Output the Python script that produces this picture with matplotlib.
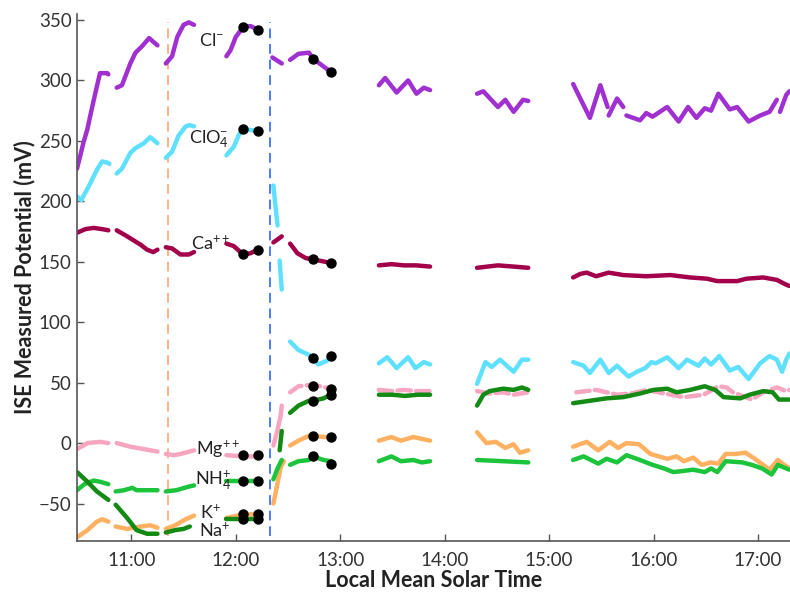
import matplotlib
matplotlib.use("Agg")
import matplotlib.pyplot as plt

plt.rcParams['font.family'] = ['Lato', 'DejaVu Sans']
plt.rcParams['mathtext.fontset'] = 'custom'
plt.rcParams['mathtext.rm'] = 'Lato'
plt.rcParams['mathtext.it'] = 'Lato'

# ---- data: time in hours (local mean solar time), values in mV ----
cl_t = [[10.48, 10.54, 10.58, 10.62, 10.67, 10.70, 10.77, 10.78],
        [10.86, 10.91, 10.99, 11.04, 11.10, 11.17, 11.21, 11.25],
        [11.33, 11.39, 11.44, 11.50, 11.55, 11.60],
        [11.91, 11.95, 12.00, 12.07, 12.14, 12.21],
        [12.35, 12.44],
        [12.52, 12.60, 12.70, 12.74, 12.91],
        [13.37, 13.43, 13.54, 13.65, 13.73, 13.80, 13.86],
        [14.31, 14.37, 14.51, 14.58, 14.66, 14.75, 14.80],
        [15.23, 15.39, 15.49, 15.56],
        [15.57, 15.65, 15.71],
        [15.74, 15.87, 15.93, 15.99, 16.13, 16.24, 16.33, 16.41, 16.49, 16.55, 16.62,
         16.73, 16.80, 16.91, 17.02, 17.11, 17.18],
        [17.21, 17.27, 17.30]]
cl_v = [[227, 248, 260, 276, 295, 306, 306, 305],
        [294, 296, 314, 323, 328, 335, 332, 329],
        [314, 320, 336, 346, 348, 346],
        [320, 325, 336, 344, 345, 342],
        [319, 314],
        [317, 322, 323, 318, 307],
        [296, 302, 290, 300, 289, 294, 292],
        [289, 291, 278, 284, 274, 284, 283],
        [297, 269, 296, 278],
        [271, 285, 278],
        [271, 267, 273, 270, 278, 266, 278, 269, 277, 275, 289,
         276, 278, 266, 271, 274, 284],
        [274, 288, 291]]

clo4_t = [[10.48, 10.52, 10.59, 10.67, 10.72, 10.77, 10.79],
          [10.86, 10.91, 10.99, 11.04, 11.12, 11.18, 11.21, 11.25],
          [11.33, 11.39, 11.45, 11.52, 11.56, 11.60],
          [11.91, 11.98, 12.03, 12.07, 12.14, 12.21],
          [12.36, 12.38, 12.40],
          [12.42, 12.43, 12.44],
          [12.52, 12.60, 12.70, 12.74, 12.79, 12.87, 12.91],
          [13.37, 13.45, 13.54, 13.65, 13.72, 13.80, 13.86],
          [14.31, 14.39, 14.45, 14.53, 14.66, 14.74, 14.80],
          [15.23, 15.33, 15.39, 15.49, 15.57, 15.65, 15.76, 15.84, 15.92, 15.98, 16.02,
           16.13, 16.24, 16.32, 16.43, 16.49, 16.55, 16.63, 16.73, 16.81, 16.91, 17.02,
           17.11, 17.18, 17.23, 17.27, 17.30]]
clo4_v = [[204, 201, 212, 226, 233, 232, 231],
          [223, 227, 240, 244, 248, 253, 251, 248],
          [236, 241, 254, 262, 263, 262],
          [238, 245, 255, 260, 259, 258],
          [213, 196, 180],
          [151, 138, 127],
          [84, 77, 73, 70, 65, 68, 72],
          [66, 71, 62, 71, 62, 67, 65],
          [49, 67, 63, 69, 59, 69, 69],
          [67, 64, 58, 69, 58, 64, 55, 59, 62, 67, 66,
           71, 62, 69, 64, 70, 65, 72, 60, 63, 53, 66,
           72, 69, 59, 69, 74]]

ca_t = [[10.48, 10.56, 10.64, 10.72, 10.78],
        [10.86, 10.96, 11.09, 11.15, 11.21, 11.25],
        [11.33, 11.39, 11.47, 11.55, 11.60],
        [11.91, 11.98, 12.07, 12.14, 12.21],
        [12.36, 12.44],
        [12.52, 12.59, 12.67, 12.74, 12.91],
        [13.37, 13.49, 13.61, 13.73, 13.86],
        [14.31, 14.51, 14.66, 14.80],
        [15.23, 15.30, 15.36, 15.45, 15.57, 15.71, 15.93, 16.16, 16.35, 16.51, 16.61,
         16.80, 16.89, 17.05, 17.18, 17.27, 17.30]]
ca_v = [[174, 177, 178, 177, 176],
        [176, 171, 164, 160, 158, 160],
        [162, 161, 156, 156, 158],
        [165, 163, 156, 157, 160],
        [166, 171],
        [165, 157, 153, 152, 149],
        [147, 148, 147, 147, 146],
        [145, 147, 146, 145],
        [137, 140, 141, 138, 141, 139, 138, 139, 137, 136, 134,
         134, 136, 137, 135, 131, 130]]

mg_t = [[10.48, 10.58, 10.70, 10.78],
        [10.86, 10.99, 11.12, 11.25],
        [11.33, 11.41, 11.47, 11.60],
        [11.91, 12.07, 12.21],
        [12.36, 12.40, 12.43, 12.44],
        [12.52, 12.60, 12.70, 12.81, 12.91],
        [13.37, 13.49, 13.61, 13.73, 13.86],
        [14.31, 14.43, 14.56, 14.66, 14.80],
        [15.26, 15.45, 15.65, 15.78, 15.94, 16.10, 16.29, 16.48, 16.62, 16.70, 16.76,
         16.94, 17.05, 17.18, 17.27, 17.30]]
mg_v = [[-5, 0, 1, 0],
        [0, -3, -5, -7],
        [-9, -10, -9, -6],
        [-10, -11, -11],
        [-2, 11, 23, 31],
        [42, 47, 48, 47, 45],
        [44, 43, 44, 43, 43],
        [43, 41, 42, 40, 42],
        [42, 44, 40, 41, 44, 41, 38, 40, 47, 46, 42,
         36, 42, 46, 43, 44]]

nh4_t = [[10.48, 10.55, 10.64, 10.70, 10.78],
         [10.85, 10.93, 11.01, 11.05, 11.12, 11.25],
         [11.33, 11.43, 11.55, 11.60],
         [11.91, 12.07, 12.21],
         [12.36, 12.40, 12.44],
         [12.52, 12.60, 12.70, 12.74, 12.84, 12.91],
         [13.37, 13.49, 13.58, 13.70, 13.78, 13.86],
         [14.31, 14.56, 14.80],
         [15.23, 15.33, 15.47, 15.55, 15.65, 15.74, 15.87, 15.99, 16.10, 16.19, 16.29,
          16.38, 16.49, 16.55, 16.61, 16.69, 16.85, 16.94, 17.04, 17.13, 17.19, 17.27, 17.30]]
nh4_v = [[-39, -34, -31, -32, -34],
         [-40, -39, -37, -39, -39, -39],
         [-40, -39, -36, -35],
         [-31, -31, -31],
         [-30, -21, -14],
         [-18, -15, -14, -11, -14, -15],
         [-15, -11, -15, -14, -16, -15],
         [-14, -15, -16],
         [-14, -11, -17, -13, -16, -10, -14, -18, -21, -24, -23,
          -22, -24, -21, -24, -15, -16, -18, -21, -26, -18, -21, -22]]

k_t = [[10.48, 10.58, 10.67, 10.72, 10.78],
       [10.85, 10.96, 11.09, 11.18, 11.25],
       [11.33, 11.42, 11.52, 11.60],
       [11.91, 12.07, 12.21],
       [12.36, 12.40, 12.43, 12.46],
       [12.52, 12.60, 12.70, 12.74, 12.84, 12.91],
       [13.37, 13.49, 13.58, 13.70, 13.86],
       [14.31, 14.40, 14.49, 14.58, 14.66, 14.72, 14.80],
       [15.23, 15.36, 15.47, 15.58, 15.66, 15.74, 15.86, 15.97, 16.13, 16.22, 16.29,
        16.38, 16.46, 16.55, 16.62, 16.69, 16.78, 16.88, 16.97, 17.11, 17.19, 17.25, 17.30]]
k_v = [[-78, -72, -65, -63, -65],
       [-69, -71, -69, -68, -70],
       [-71, -68, -63, -60],
       [-62, -59, -59],
       [-50, -33, -20, -15],
       [-2, 2, 6, 6, 5, 5],
       [2, 5, 2, 5, 2],
       [9, 0, 1, -4, -1, -8, -6],
       [-3, 1, -6, 1, -4, 0, -1, -9, -13, -11, -15,
        -12, -18, -16, -17, -9, -9, -8, -13, -22, -14, -18, -21]]

na_t = [[10.48, 10.58, 10.67, 10.78],
        [10.85, 10.96, 11.05, 11.15, 11.25],
        [11.33, 11.42, 11.50, 11.56],
        [11.91, 12.07, 12.21],
        [12.42, 12.43, 12.44],
        [12.52, 12.60, 12.70, 12.74, 12.84, 12.91],
        [13.37, 13.50, 13.62, 13.74, 13.86],
        [14.31, 14.37, 14.43, 14.56, 14.66, 14.74, 14.80],
        [15.23, 15.39, 15.55, 15.71, 15.87, 16.00, 16.13, 16.22, 16.35, 16.49, 16.59,
         16.67, 16.83, 16.92, 17.05, 17.14, 17.20, 17.30]]
na_v = [[-24, -32, -40, -47],
        [-51, -62, -72, -75, -75],
        [-74, -72, -71, -69],
        [-63, -63, -63],
        [-6, 2, 10],
        [25, 31, 35, 35, 37, 40],
        [40, 40, 39, 40, 40],
        [31, 40, 43, 45, 44, 46, 44],
        [33, 35, 37, 38, 41, 44, 45, 42, 44, 47, 44,
         38, 37, 40, 43, 42, 36, 36]]

# calibration points (black dots)
dot_t = [12.07, 12.21, 12.74, 12.91]
cl_dots = [344, 342, 318, 307]
clo4_dots = [260, 258, 70, 72]
ca_dots = [156, 160, 152, 149]
mg_dots = [-10, -10, 47, 45]
nh4_dots = [-31, -31, -11, -17]
k_dots = [-59, -59, 6, 5]
na_dots = [-63, -63, 35, 40]

ion_labels = ['Cl$^{-}$', 'ClO$_4^{-}$', 'Ca$^{++}$', 'Mg$^{++}$', 'NH$_4^{+}$', 'K$^{+}$', 'Na$^{+}$']
label_t = [11.65, 11.555, 11.575, 11.62, 11.61, 11.66, 11.65]
label_v = [333, 251, 165, -5, -31, -57, -72]

event_t = [11.35, 12.33]

x_ticks = [11, 12, 13, 14, 15, 16, 17]
x_ticklabels = ['11:00', '12:00', '13:00', '14:00', '15:00', '16:00', '17:00']
y_ticks = [-50, 0, 50, 100, 150, 200, 250, 300, 350]

# ---- figure ----
fig = plt.figure(figsize=(7.9, 5.93), dpi=100)
ax = fig.add_axes([0.0975, 0.0877, 0.9025, 0.8888])

series = [
    (cl_t, cl_v, '#A030D0', False),
    (clo4_t, clo4_v, '#5FE0FF', False),
    (ca_t, ca_v, '#A3004C', False),
    (mg_t, mg_v, '#F7A6BF', True),
    (k_t, k_v, '#FFB060', False),
    (nh4_t, nh4_v, '#1CC43C', False),
    (na_t, na_v, '#138A13', False),
]
for ts, vs, col, dashed_late in series:
    for t, v in zip(ts, vs):
        ls = (0, (3, 1.2)) if (dashed_late and t[0] > 12.5) else '-'
        ax.plot(t, v, color=col, lw=3.2, ls=ls, solid_capstyle='round',
                dash_capstyle='round', solid_joinstyle='round', zorder=2)

for d in [cl_dots, clo4_dots, ca_dots, mg_dots, nh4_dots, k_dots, na_dots]:
    ax.plot(dot_t, d, 'o', color='black', ms=6.5, ls='none', zorder=4)

ax.axvline(event_t[0], ymin=0.01, ymax=0.985, color='#FFB08A', ls=(0, (5, 3)), lw=1.4, zorder=1)
ax.axvline(event_t[1], ymin=0.01, ymax=0.985, color='#4C7BFF', ls=(0, (5, 3)), lw=1.4, zorder=1)

for lab, t, v in zip(ion_labels, label_t, label_v):
    ax.text(t, v, lab, fontsize=13, color='#222222', ha='left', va='center', zorder=5)

ax.set_xlim(10.48, 17.306)
ax.set_ylim(-81, 355)
ax.set_xticks(x_ticks)
ax.set_xticklabels(x_ticklabels)
ax.set_yticks(y_ticks)
ax.tick_params(direction='in', length=5, width=1, colors='#555555', labelcolor='#333333',
               labelsize=13.5, pad=4)
ax.tick_params(axis='x', pad=8)
for s in ['top', 'right']:
    ax.spines[s].set_visible(False)
for s in ['left', 'bottom']:
    ax.spines[s].set_color('#555555')
    ax.spines[s].set_linewidth(1.2)

ax.set_xlabel('Local Mean Solar Time', fontsize=15.5, fontweight='bold', color='#222222', labelpad=1)
ax.set_ylabel('ISE Measured Potential (mV)', fontsize=15.5, fontweight='bold', color='#222222', labelpad=2)

fig.savefig('out.png', dpi=100)
